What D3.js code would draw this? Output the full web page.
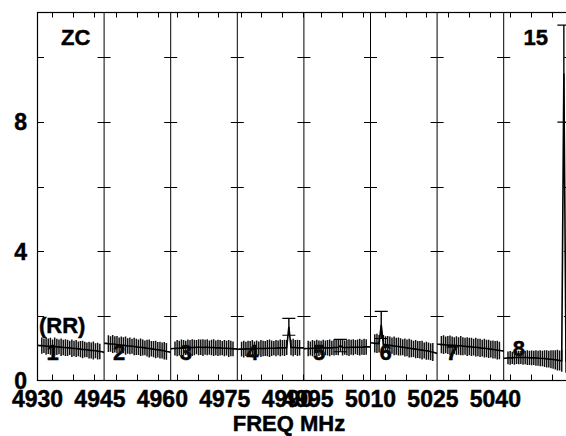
<!DOCTYPE html>
<html><head><meta charset="utf-8">
<script src="https://cdn.jsdelivr.net/npm/d3@7"></script>
<style>
body{margin:0;background:#fff}
svg{display:block}
text{font-family:"Liberation Sans",Arial,Helvetica,sans-serif;font-weight:bold;fill:#000;stroke:#000;stroke-width:0.45px}
</style>
</head><body>
<svg id="chart" width="566" height="436"></svg>
<script>
// ---------------- data ----------------
const ifNumbers = [1, 2, 3, 4, 5, 6, 7, 8];
const ifStartMHz = [4931.47, 4947.12, 4963.56, 4979.2, 4995.92, 5011.56, 5027.36, 5043.39];
const ifWidthMHz = 16;
const axisFreqTicks = [4930, 4945, 4960, 4975, 4990, 4995, 5010, 5025, 5040];
const yTickLabels = [0, 4, 8];
const yTickMarks = [2, 4, 6, 8, 10];
const sourceName = "ZC";
const baselineName = "15";
const polarization = "(RR)";
const xTitle = "FREQ MHz";

const ampIF1 = [1.09,1.08,1.08,1.07,1.07,1.06,1.06,1.05,1.05,1.04,1.04,1.03,1.02,1.02,1.01,1.01,1.00,0.99,0.99,0.98,0.97,0.96,0.96,0.95,0.94,0.93,0.93,0.92,0.91,0.90,0.89,0.87];
const errIF1 = [0,0,0.25,0.22,0.27,0.24,0.26,0.22,0.28,0.25,0.23,0.27,0.24,0.26,0.25,0.22,0.27,0.24,0.26,0.23,0.25,0.27,0.24,0.23,0.26,0.25,0.28,0.23,0.26,0.24,0,0];
const ampIF2 = [1.15,1.15,1.14,1.13,1.13,1.12,1.11,1.10,1.10,1.09,1.08,1.07,1.07,1.06,1.05,1.04,1.03,1.03,1.02,1.01,1.00,0.99,0.98,0.97,0.96,0.95,0.94,0.93,0.92,0.90,0.89,0.87];
const errIF2 = [0,0,0.26,0.24,0.28,0.25,0.27,0.23,0.26,0.25,0.28,0.24,0.26,0.23,0.27,0.25,0.24,0.27,0.25,0.23,0.26,0.28,0.24,0.25,0.27,0.24,0.26,0.25,0.27,0.26,0,0];
const ampIF3 = [0.98,0.99,0.99,1.00,1.00,1.01,1.01,1.01,1.02,1.02,1.02,1.02,1.03,1.03,1.03,1.02,1.03,1.03,1.02,1.02,1.02,1.01,1.01,1.01,1.00,1.00,1.00,0.99,0.99,0.98,0.98,0.97];
const errIF3 = [0,0,0.22,0.25,0.23,0.26,0.24,0.22,0.25,0.23,0.26,0.24,0.22,0.25,0.24,0.26,0.23,0.25,0.22,0.24,0.26,0.23,0.25,0.24,0.22,0.25,0.23,0.26,0.24,0.23,0,0];
const ampIF4 = [0.96,0.97,0.97,0.97,0.98,0.98,0.98,0.98,0.98,0.99,0.99,0.99,0.99,0.99,1.00,1.00,1.00,1.00,1.00,1.01,1.01,1.01,1.01,1.02,1.66,1.02,1.02,1.02,1.01,1.01,1.01,1.01];
const errIF4 = [0,0,0.23,0.26,0.22,0.25,0.24,0.27,0.23,0.25,0.22,0.26,0.24,0.23,0.25,0.27,0.24,0.22,0.25,0.23,0.26,0.24,0.25,0.23,0.26,0.24,0.27,0.23,0.25,0.24,0,0];
const ampIF5 = [0.98,0.99,0.99,0.99,1.00,1.00,1.00,1.00,1.01,1.01,1.01,1.01,1.01,1.01,1.02,1.02,1.02,1.08,1.02,1.02,1.02,1.02,1.03,1.03,1.03,1.03,1.03,1.03,1.04,1.04,1.04,1.04];
const errIF5 = [0,0,0.24,0.22,0.25,0.23,0.26,0.24,0.22,0.25,0.23,0.24,0.26,0.22,0.25,0.23,0.24,0.19,0.25,0.22,0.24,0.26,0.23,0.25,0.22,0.24,0.26,0.23,0.25,0.24,0,0];
const ampIF6 = [1.17,1.16,1.15,1.15,1.14,1.72,1.12,1.11,1.10,1.09,1.08,1.07,1.06,1.05,1.04,1.03,1.02,1.01,1.00,0.99,0.98,0.97,0.96,0.95,0.94,0.93,0.92,0.91,0.89,0.88,0.86,0.84];
const errIF6 = [0,0,0.28,0.30,0.27,0.42,0.29,0.26,0.28,0.27,0.25,0.29,0.26,0.28,0.27,0.25,0.28,0.26,0.29,0.27,0.25,0.28,0.26,0.27,0.29,0.25,0.28,0.27,0.26,0.28,0,0];
const ampIF7 = [1.12,1.12,1.11,1.11,1.10,1.10,1.09,1.09,1.08,1.08,1.07,1.08,1.06,1.06,1.05,1.05,1.04,1.03,1.03,1.02,1.01,1.00,1.00,0.99,0.98,0.97,0.96,0.95,0.94,0.93,0.92,0.91];
const errIF7 = [0,0,0.27,0.29,0.26,0.28,0.30,0.27,0.26,0.29,0.27,0.30,0.28,0.26,0.29,0.27,0.28,0.26,0.29,0.27,0.28,0.26,0.29,0.27,0.28,0.26,0.28,0.27,0.29,0.27,0,0];
const ampIF8 = [0.69,0.69,0.70,0.70,0.70,0.71,0.71,0.71,0.71,0.71,0.71,0.71,0.70,0.70,0.70,0.70,0.69,0.69,0.68,0.68,0.67,0.66,0.66,0.65,0.64,0.63,0.62,0.61,9.50,0.60,0.60,0.60];
const errIF8 = [0,0,0.20,0.21,0.19,0.22,0.20,0.21,0.20,0.22,0.21,0.23,0.22,0.23,0.22,0.24,0.23,0.25,0.24,0.26,0.27,0.26,0.28,0.29,0.30,0.32,0.31,0.34,1.50,0.36,0,0];

// points whose error bars carry end caps (isolated outliers)
const cappedIF = [3, 4, 5, 7];
const cappedChannel = [24, 17, 5, 28];

const amps = [ampIF1, ampIF2, ampIF3, ampIF4, ampIF5, ampIF6, ampIF7, ampIF8];
const errs = [errIF1, errIF2, errIF3, errIF4, errIF5, errIF6, errIF7, errIF8];

// ---------------- layout ----------------
const svg = d3.select("#chart");
const nIF = ifNumbers.length;
const f0 = axisFreqTicks[0];
const x = d3.scaleLinear().domain([f0, f0 + nIF * ifWidthMHz]).range([37.5, 570.3]);
const y = d3.scaleLinear().domain([0, 11.39]).range([380.5, 12.5]);
const yTop = y.range()[1], yBot = y.range()[0];
const xLeft = x.range()[0], xRight = x.range()[1];

const panelLeft = k => x(f0 + k * ifWidthMHz);
const chanX = (k, i, n) => x(f0 + k * ifWidthMHz + i * ifWidthMHz / (n - 1));

const g = svg.append("g");

// frame
g.append("rect").attr("x", xLeft).attr("y", yTop).attr("width", xRight - xLeft).attr("height", yBot - yTop)
  .attr("fill", "none").attr("stroke", "#000").attr("stroke-width", 1.2);

// panel separators
for (let k = 1; k < nIF; k++) {
  g.append("line").attr("x1", panelLeft(k)).attr("x2", panelLeft(k)).attr("y1", yTop).attr("y2", yBot)
    .attr("stroke", "#000").attr("stroke-width", 1);
}

// y tick marks: inward at left/right edges, crosses at separators
yTickMarks.forEach(v => {
  const yy = Math.round(y(v)) + 0.5;
  g.append("line").attr("x1", xLeft).attr("x2", xLeft + 6.5).attr("y1", yy).attr("y2", yy).attr("stroke", "#000");
  g.append("line").attr("x1", xRight - 6.5).attr("x2", xRight).attr("y1", yy).attr("y2", yy).attr("stroke", "#000");
  for (let k = 1; k < nIF; k++) {
    g.append("line").attr("x1", panelLeft(k) - 6.5).attr("x2", panelLeft(k) + 6.5).attr("y1", yy).attr("y2", yy)
      .attr("stroke", "#000");
  }
});

// per-IF minor frequency ticks (every 5 MHz of sky frequency), top and bottom
ifStartMHz.forEach((fs, k) => {
  const ticks = d3.range(Math.ceil(fs / 5) * 5, fs + ifWidthMHz + 1e-6, 5);
  ticks.forEach(t => {
    const xx = Math.round(x(f0 + k * ifWidthMHz + (t - fs))) + 0.5;
    g.append("line").attr("x1", xx).attr("x2", xx).attr("y1", yBot).attr("y2", yBot - 6).attr("stroke", "#000");
    g.append("line").attr("x1", xx).attr("x2", xx).attr("y1", yTop).attr("y2", yTop + 5).attr("stroke", "#000");
  });
});

// y tick labels
g.selectAll(".ylab").data(yTickLabels).join("text")
  .attr("x", 27).attr("y", d => y(d)).attr("dy", "0.36em").attr("text-anchor", "end")
  .attr("font-size", 23).text(d => d);

// x tick labels
g.selectAll(".xlab").data(axisFreqTicks).join("text")
  .attr("x", d => x(d)).attr("y", 407).attr("text-anchor", "middle")
  .attr("font-size", 23).text(d => d);

// x title
g.append("text").attr("x", 289).attr("y", 431).attr("text-anchor", "middle")
  .attr("font-size", 22).text(xTitle);

// data
const clip = svg.append("defs").append("clipPath").attr("id", "plotclip");
clip.append("rect").attr("x", xLeft).attr("y", yTop).attr("width", xRight - xLeft).attr("height", yBot - yTop);
const dg = svg.append("g").attr("clip-path", "url(#plotclip)");

amps.forEach((a, k) => {
  const n = a.length;
  const e = errs[k];
  a.forEach((v, i) => {
    if (e[i] > 0) {
      const xx = chanX(k, i, n);
      dg.append("line").attr("x1", xx).attr("x2", xx).attr("y1", y(v - e[i])).attr("y2", y(v + e[i]))
        .attr("stroke", "#111").attr("stroke-width", 1.5);
    }
  });
  const line = d3.line().x((v, i) => chanX(k, i, n)).y(v => y(v));
  dg.append("path").attr("d", line(a)).attr("fill", "none").attr("stroke", "#000").attr("stroke-width", 1.6);
});

// caps on isolated outliers
cappedIF.forEach((k, j) => {
  const i = cappedChannel[j];
  const a = amps[k], e = errs[k];
  const xx = chanX(k, i, a.length);
  [a[i] + e[i], a[i] - e[i]].forEach(v => {
    dg.append("line").attr("x1", xx - 6.5).attr("x2", xx + 6.5).attr("y1", y(v)).attr("y2", y(v))
      .attr("stroke", "#000").attr("stroke-width", 1.2);
  });
});

// IF numbers
g.selectAll(".ifnum").data(ifNumbers).join("text")
  .attr("x", (d, k) => panelLeft(k) + 9).attr("y", (d, k) => k === nIF - 1 ? 356 : 360)
  .attr("font-size", 22).text(d => d);

// annotations
g.append("text").attr("x", 61).attr("y", 45).attr("font-size", 22).text(sourceName);
g.append("text").attr("x", 548).attr("y", 45).attr("text-anchor", "end").attr("font-size", 22).text(baselineName);
g.append("text").attr("x", 39).attr("y", 333).attr("font-size", 22).text(polarization);
</script>
</body></html>
